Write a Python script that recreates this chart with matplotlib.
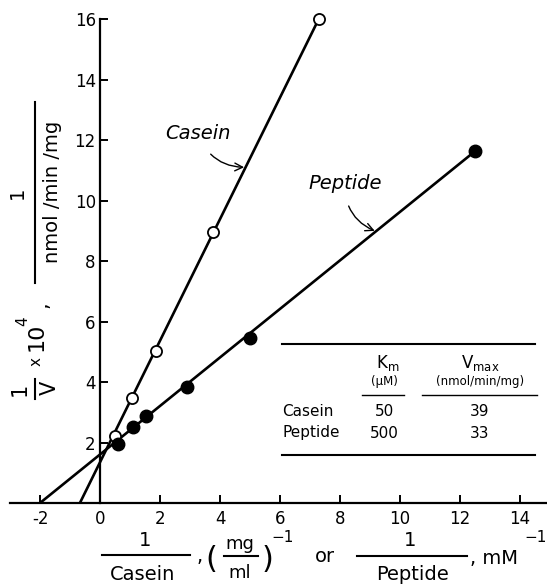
import numpy as np
import matplotlib
matplotlib.use('agg')
import matplotlib.pyplot as plt
from matplotlib.lines import Line2D

plt.rcParams['font.family'] = ['DejaVu Sans']
plt.rcParams['axes.unicode_minus'] = False

# data
casein_x = [0.5, 1.06, 1.88, 3.78, 7.29]
casein_y = [2.22, 3.48, 5.02, 8.95, 16.0]
peptide_x = [0.61, 1.11, 1.54, 2.91, 5.0, 12.51]
peptide_y = [1.95, 2.52, 2.87, 3.82, 5.47, 11.64]

# hand drawn fit lines: x-intercept (-1/Km) and end point
casein_fit_x = [-0.67, 7.29]
casein_fit_y = [0.0, 16.0]
peptide_fit_x = [-2.0, 12.51]
peptide_fit_y = [0.0, 11.64]

xticks = [-2, 0, 2, 4, 6, 8, 10, 12, 14]
yticks = [2, 4, 6, 8, 10, 12, 14, 16]

table_rows = ['Casein', 'Peptide']
table_km = ['50', '500']
table_vmax = ['39', '33']

W, H = 547, 585
fig = plt.figure(figsize=(W / 100, H / 100), dpi=100)


def fx(x):
    return x / W


def fy(y):
    return 1 - y / H


def ftext(x, y, s, **kw):
    kw.setdefault('ha', 'center')
    kw.setdefault('va', 'center')
    fig.text(fx(x), fy(y), s, **kw)


def fline(x0, y0, x1, y1, lw=1.5):
    fig.add_artist(Line2D([fx(x0), fx(x1)], [fy(y0), fy(y1)], color='black', lw=lw,
                          transform=fig.transFigure))


ax = fig.add_axes([fx(10), fy(503), (547 - 10) / W, (503 - 4) / H])
ax.set_xlim(-3, 14.9)
ax.set_ylim(0, 16.5)

for s in ['top', 'right']:
    ax.spines[s].set_visible(False)
ax.spines['left'].set_position(('data', 0))
ax.spines['left'].set_bounds(0, 16)
ax.spines['left'].set_linewidth(1.6)
ax.spines['bottom'].set_linewidth(1.6)

ax.set_xticks(xticks)
ax.set_xticklabels([str(t) for t in xticks])
ax.set_yticks(yticks)
ax.tick_params(direction='in', length=6, width=1.4, labelsize=12, pad=3)
ax.tick_params(axis='x', pad=5)

# lines
ax.plot(casein_fit_x, casein_fit_y, color='black', lw=1.9, zorder=2)
ax.plot(peptide_fit_x, peptide_fit_y, color='black', lw=1.9, zorder=2)
ax.plot(casein_x, casein_y, 'o', ms=8, mfc='white', mec='black', mew=1.3, zorder=3)
ax.plot(peptide_x, peptide_y, 'o', ms=9, mfc='black', mec='black', zorder=3)

# curve labels
ax.annotate('Casein', xy=(4.85, 11.1), xytext=(3.27, 12.23), style='italic', fontsize=14,
            ha='center', va='center',
            arrowprops=dict(arrowstyle='->', lw=1.0, color='black',
                            connectionstyle='arc3,rad=0.35',
                            shrinkA=8, shrinkB=1))
ax.annotate('Peptide', xy=(9.2, 8.98), xytext=(8.17, 10.58), style='italic', fontsize=14,
            ha='center', va='center',
            arrowprops=dict(arrowstyle='->', lw=1.0, color='black',
                            connectionstyle='arc3,rad=0.35',
                            shrinkA=8, shrinkB=1))

# inset table
fline(282, 344, 535, 344)
fline(282, 455, 535, 455)
fline(362, 395, 404, 395, lw=1.0)
fline(422, 395, 537, 395, lw=1.0)
ftext(388, 363, r'K$_\mathregular{m}$', fontsize=12)
ftext(480, 363, r'V$_\mathregular{max}$', fontsize=12)
ftext(384, 382, '(\u03bcM)', fontsize=8.5)
ftext(480, 382, '(nmol/min/mg)', fontsize=8.5)
for i, name in enumerate(table_rows):
    yy = 411 + 22 * i
    ftext(282, yy, name, fontsize=11, ha='left')
    ftext(384, yy, table_km[i], fontsize=11)
    ftext(480, yy, table_vmax[i], fontsize=11)

# y axis label
ftext(20, 389, '1', fontsize=15, rotation=90)
fline(35, 379, 35, 399, lw=1.5)
ftext(50, 388, 'V', fontsize=15, rotation=90)
ftext(36, 362, 'x', fontsize=11, rotation=90)
ftext(37, 337, '10', fontsize=16, rotation=90)
ftext(23, 321, '4', fontsize=11, rotation=90)
ftext(41, 305, ',', fontsize=15, rotation=90)
ftext(17, 193, '1', fontsize=14, rotation=90)
fline(35, 102, 35, 283, lw=1.5)
ftext(53, 192, 'nmol /min /mg', fontsize=14, rotation=90)

# x axis label
ftext(145, 541, '1', fontsize=14)
fline(102, 555, 190, 555, lw=1.5)
ftext(143, 574, 'Casein', fontsize=14)
ftext(200, 557, ',', fontsize=14)
ftext(211, 559, '(', fontsize=22)
ftext(240, 544, 'mg', fontsize=13)
fline(224, 556, 258, 556, lw=1.5)
ftext(240, 573, 'ml', fontsize=13)
ftext(267, 559, ')', fontsize=22)
ftext(283, 537, '\u22121', fontsize=11)
ftext(325, 557, 'or', fontsize=14)
ftext(410, 541, '1', fontsize=14)
fline(357, 556, 467, 556, lw=1.5)
ftext(413, 574, 'Peptide', fontsize=14)
ftext(470, 558, ', mM', fontsize=14, ha='left')
ftext(536, 537, '\u22121', fontsize=11)

fig.savefig('out.png', dpi=100)
